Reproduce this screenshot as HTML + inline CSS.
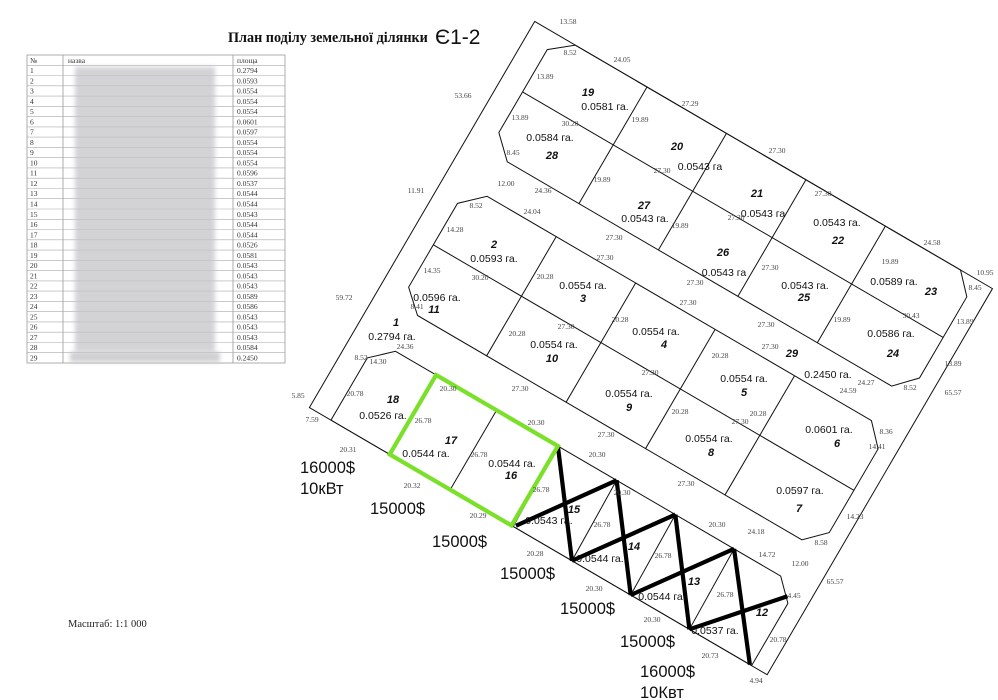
<!DOCTYPE html>
<html><head><meta charset="utf-8"><style>
body{margin:0;background:#fff;width:998px;height:700px;overflow:hidden;position:relative;font-family:"Liberation Serif",serif}
svg{position:absolute;left:0;top:0}
.d{font-family:"Liberation Serif",serif;font-size:7.5px;fill:#444}
.n{font-family:"Liberation Sans",sans-serif;font-size:11px;font-style:italic;font-weight:bold;fill:#111}
.a{font-family:"Liberation Sans",sans-serif;font-size:10.5px;fill:#111}
.p{font-family:"Liberation Sans",sans-serif;font-size:16.5px;fill:#111}
</style></head><body>
<svg width="998" height="700" viewBox="0 0 998 700">
<text x="228" y="42" font-family="Liberation Serif,serif" font-weight="bold" font-size="14.2" fill="#111">План поділу земельної ділянки</text>
<text x="435" y="44" font-family="Liberation Sans,sans-serif" font-size="21" fill="#111">Є1-2</text>
<g stroke="#999" stroke-width="0.8" fill="none">
<rect x="27" y="55" width="258" height="308"/>
<line x1="63" y1="55" x2="63" y2="363"/><line x1="233" y1="55" x2="233" y2="363"/>
</g>
<g stroke="#aaa" stroke-width="0.6">
<line x1="27" y1="65.3" x2="285" y2="65.3"/><line x1="27" y1="75.5" x2="285" y2="75.5"/><line x1="27" y1="85.8" x2="285" y2="85.8"/><line x1="27" y1="96.1" x2="285" y2="96.1"/><line x1="27" y1="106.3" x2="285" y2="106.3"/><line x1="27" y1="116.6" x2="285" y2="116.6"/><line x1="27" y1="126.9" x2="285" y2="126.9"/><line x1="27" y1="137.1" x2="285" y2="137.1"/><line x1="27" y1="147.4" x2="285" y2="147.4"/><line x1="27" y1="157.7" x2="285" y2="157.7"/><line x1="27" y1="167.9" x2="285" y2="167.9"/><line x1="27" y1="178.2" x2="285" y2="178.2"/><line x1="27" y1="188.5" x2="285" y2="188.5"/><line x1="27" y1="198.7" x2="285" y2="198.7"/><line x1="27" y1="209" x2="285" y2="209"/><line x1="27" y1="219.3" x2="285" y2="219.3"/><line x1="27" y1="229.5" x2="285" y2="229.5"/><line x1="27" y1="239.8" x2="285" y2="239.8"/><line x1="27" y1="250.1" x2="285" y2="250.1"/><line x1="27" y1="260.3" x2="285" y2="260.3"/><line x1="27" y1="270.6" x2="285" y2="270.6"/><line x1="27" y1="280.9" x2="285" y2="280.9"/><line x1="27" y1="291.1" x2="285" y2="291.1"/><line x1="27" y1="301.4" x2="285" y2="301.4"/><line x1="27" y1="311.7" x2="285" y2="311.7"/><line x1="27" y1="321.9" x2="285" y2="321.9"/><line x1="27" y1="332.2" x2="285" y2="332.2"/><line x1="27" y1="342.5" x2="285" y2="342.5"/><line x1="27" y1="352.7" x2="285" y2="352.7"/>
</g>
<defs><filter id="bl"><feGaussianBlur stdDeviation="2.2"/></filter></defs>
<g filter="url(#bl)" fill="#c4c4c8">
<rect x="75" y="67" width="140" height="284" opacity="0.75"/>
<rect x="70" y="352" width="150" height="10" opacity="0.8"/>
</g>
<g font-family="Liberation Serif,serif" font-size="7.5" fill="#333">
<text x="30" y="63">№</text><text x="68" y="63">назва</text><text x="237" y="63">площа</text>
<text x="30" y="73">1</text><text x="237" y="73">0.2794</text>
<text x="30" y="83.3">2</text><text x="237" y="83.3">0.0593</text>
<text x="30" y="93.6">3</text><text x="237" y="93.6">0.0554</text>
<text x="30" y="103.8">4</text><text x="237" y="103.8">0.0554</text>
<text x="30" y="114.1">5</text><text x="237" y="114.1">0.0554</text>
<text x="30" y="124.4">6</text><text x="237" y="124.4">0.0601</text>
<text x="30" y="134.6">7</text><text x="237" y="134.6">0.0597</text>
<text x="30" y="144.9">8</text><text x="237" y="144.9">0.0554</text>
<text x="30" y="155.2">9</text><text x="237" y="155.2">0.0554</text>
<text x="30" y="165.4">10</text><text x="237" y="165.4">0.0554</text>
<text x="30" y="175.7">11</text><text x="237" y="175.7">0.0596</text>
<text x="30" y="186">12</text><text x="237" y="186">0.0537</text>
<text x="30" y="196.2">13</text><text x="237" y="196.2">0.0544</text>
<text x="30" y="206.5">14</text><text x="237" y="206.5">0.0544</text>
<text x="30" y="216.8">15</text><text x="237" y="216.8">0.0543</text>
<text x="30" y="227">16</text><text x="237" y="227">0.0544</text>
<text x="30" y="237.3">17</text><text x="237" y="237.3">0.0544</text>
<text x="30" y="247.6">18</text><text x="237" y="247.6">0.0526</text>
<text x="30" y="257.8">19</text><text x="237" y="257.8">0.0581</text>
<text x="30" y="268.1">20</text><text x="237" y="268.1">0.0543</text>
<text x="30" y="278.4">21</text><text x="237" y="278.4">0.0543</text>
<text x="30" y="288.6">22</text><text x="237" y="288.6">0.0543</text>
<text x="30" y="298.9">23</text><text x="237" y="298.9">0.0589</text>
<text x="30" y="309.2">24</text><text x="237" y="309.2">0.0586</text>
<text x="30" y="319.4">25</text><text x="237" y="319.4">0.0543</text>
<text x="30" y="329.7">26</text><text x="237" y="329.7">0.0543</text>
<text x="30" y="340">27</text><text x="237" y="340">0.0543</text>
<text x="30" y="350.2">28</text><text x="237" y="350.2">0.0584</text>
<text x="30" y="360.5">29</text><text x="237" y="360.5">0.2450</text>
</g>
<text x="68" y="627" font-family="Liberation Serif,serif" font-size="10.5" fill="#222">Масштаб: 1:1 000</text>

<g transform="translate(647,87) rotate(30.27)" fill="none" stroke="#111" stroke-width="1">
<polygon points="-130,0 400,0 400,447 -130,447"/>
<polygon points="-83,0 363,0 382,20 382,114 362,135 -83,135 -105,114 -105,18"/>
<line x1="-105" y1="67" x2="382" y2="67"/>
<line x1="0" y1="0" x2="0" y2="135"/><line x1="92" y1="0" x2="92" y2="135"/><line x1="184" y1="0" x2="184" y2="135"/><line x1="276" y1="0" x2="276" y2="135"/>
<polygon points="-83,175 362,175 382,196 382,293 362,313 -83,313 -105,293 -105,196"/>
<line x1="-105" y1="244" x2="382" y2="244"/>
<line x1="-3" y1="175" x2="-3" y2="313"/><line x1="89" y1="175" x2="89" y2="313"/><line x1="181" y1="175" x2="181" y2="313"/><line x1="273" y1="175" x2="273" y2="313"/>
<polygon points="-84,355 362,355 382,375 382,447 -105,447 -105,375"/>
<line x1="-37" y1="355" x2="-37" y2="447"/><line x1="33" y1="355" x2="33" y2="447"/>
<line x1="172" y1="355" x2="174" y2="447"/><line x1="240" y1="355" x2="242" y2="447"/><line x1="308" y1="355" x2="310" y2="447"/>
<line x1="104" y1="355" x2="106" y2="447"/>
<g stroke="#000" stroke-width="4.2">
<line x1="104" y1="355" x2="174" y2="447"/><line x1="108" y1="445" x2="172" y2="355"/>
<line x1="172" y1="355" x2="242" y2="447"/><line x1="174" y1="447" x2="240" y2="355"/>
<line x1="240" y1="355" x2="310" y2="447"/><line x1="242" y1="447" x2="308" y2="355"/>
<line x1="308" y1="355" x2="380" y2="447"/><line x1="310" y1="447" x2="378" y2="369"/>
</g>
<rect x="-37" y="355" width="141" height="92" stroke="#7be02a" stroke-width="4.2"/>
</g>

<g class="n" text-anchor="middle">
<text x="588" y="96">19</text><text x="552" y="159">28</text><text x="677" y="150">20</text><text x="644" y="209">27</text>
<text x="757" y="197">21</text><text x="723" y="256">26</text><text x="838" y="244">22</text><text x="804" y="301">25</text>
<text x="931" y="295">23</text><text x="893" y="357">24</text><text x="494" y="248">2</text><text x="434" y="313">11</text>
<text x="583" y="302">3</text><text x="552" y="362">10</text><text x="664" y="348">4</text><text x="629" y="411">9</text>
<text x="744" y="396">5</text><text x="711" y="456">8</text><text x="792" y="357">29</text><text x="837" y="447">6</text>
<text x="799" y="512">7</text><text x="396" y="326">1</text><text x="393" y="403">18</text><text x="451" y="444">17</text>
<text x="511" y="479">16</text><text x="574" y="513">15</text><text x="634" y="550">14</text><text x="694" y="585">13</text><text x="762" y="616">12</text>
</g>
<g class="a" text-anchor="middle">
<text x="605" y="110">0.0581 га.</text><text x="550" y="141">0.0584 га.</text><text x="700" y="170">0.0543 га</text>
<text x="645" y="222">0.0543 га.</text><text x="763" y="217">0.0543 га</text><text x="724" y="276">0.0543 га</text>
<text x="837" y="226">0.0543 га.</text><text x="805" y="289">0.0543 га.</text><text x="894" y="285">0.0589 га.</text>
<text x="891" y="337">0.0586 га.</text><text x="494" y="262">0.0593 га.</text><text x="437" y="301">0.0596 га.</text>
<text x="583" y="289">0.0554 га.</text><text x="554" y="348">0.0554 га.</text><text x="656" y="335">0.0554 га.</text>
<text x="629" y="397">0.0554 га.</text><text x="744" y="382">0.0554 га.</text><text x="709" y="442">0.0554 га.</text>
<text x="828" y="378">0.2450 га.</text><text x="829" y="433">0.0601 га.</text><text x="800" y="494">0.0597 га.</text>
<text x="392" y="340">0.2794 га.</text><text x="383" y="419">0.0526 га.</text><text x="426" y="457">0.0544 га.</text>
<text x="512" y="467">0.0544 га.</text><text x="549" y="524">0.0543 га.</text><text x="600" y="562">0.0544 га.</text>
<text x="662" y="600">0.0544 га.</text><text x="715" y="634">0.0537 га.</text>
</g>
<g class="d" text-anchor="middle">
<text x="568" y="24">13.58</text><text x="570" y="55">8.52</text><text x="622" y="62">24.05</text><text x="545" y="79">13.89</text>
<text x="463" y="98">53.66</text><text x="690" y="106">27.29</text><text x="520" y="120">13.89</text><text x="570" y="126">30.20</text>
<text x="640" y="122">19.89</text><text x="513" y="155">8.45</text><text x="777" y="153">27.30</text><text x="602" y="182">19.89</text>
<text x="662" y="173">27.30</text><text x="506" y="186">12.00</text><text x="543" y="193">24.36</text><text x="416" y="193">11.91</text>
<text x="476" y="208">8.52</text><text x="532" y="214">24.04</text><text x="823" y="196">27.30</text><text x="680" y="228">19.89</text>
<text x="736" y="220">27.30</text><text x="455" y="232">14.28</text><text x="614" y="240">27.30</text><text x="605" y="260">27.30</text>
<text x="890" y="264">19.89</text><text x="932" y="245">24.58</text><text x="985" y="275">10.95</text><text x="975" y="290">8.45</text>
<text x="545" y="279">20.28</text><text x="480" y="280">30.20</text><text x="432" y="273">14.35</text><text x="695" y="285">27.30</text>
<text x="770" y="270">27.30</text><text x="688" y="305">27.30</text><text x="344" y="300">59.72</text><text x="417" y="309">8.41</text>
<text x="517" y="336">20.28</text><text x="566" y="329">27.30</text><text x="620" y="322">20.28</text><text x="770" y="349">27.30</text>
<text x="766" y="327">27.30</text><text x="842" y="322">19.89</text><text x="911" y="318">30.43</text><text x="965" y="324">13.89</text>
<text x="910" y="390">8.52</text><text x="866" y="385">24.27</text><text x="953" y="366">13.89</text><text x="953" y="395">65.57</text>
<text x="405" y="349">24.36</text><text x="361" y="360">8.52</text><text x="378" y="364">14.30</text><text x="720" y="358">20.28</text>
<text x="650" y="375">27.30</text><text x="448" y="391">20.30</text><text x="520" y="391">27.30</text><text x="355" y="396">20.78</text>
<text x="423" y="423">26.78</text><text x="536" y="425">20.30</text><text x="680" y="414">20.28</text><text x="758" y="416">20.28</text>
<text x="740" y="424">27.30</text><text x="606" y="437">27.30</text><text x="848" y="393">24.59</text><text x="886" y="434">8.36</text>
<text x="298" y="398">5.85</text><text x="312" y="422">7.59</text><text x="348" y="452">20.31</text><text x="412" y="488">20.32</text>
<text x="479" y="457">26.78</text><text x="597" y="457">20.30</text><text x="541" y="492">26.78</text><text x="686" y="486">27.30</text>
<text x="622" y="495">20.30</text><text x="478" y="518">20.29</text><text x="602" y="527">26.78</text><text x="717" y="527">20.30</text>
<text x="756" y="534">24.18</text><text x="877" y="449">14.41</text><text x="855" y="519">14.23</text><text x="535" y="556">20.28</text>
<text x="663" y="558">26.78</text><text x="767" y="557">14.72</text><text x="821" y="545">8.58</text><text x="800" y="566">12.00</text>
<text x="594" y="591">20.30</text><text x="725" y="597">26.78</text><text x="794" y="598">4.45</text><text x="835" y="584">65.57</text>
<text x="652" y="622">20.30</text><text x="778" y="642">20.78</text><text x="710" y="658">20.73</text><text x="756" y="683">4.94</text>
</g>
<g class="p">
<text x="300" y="473">16000$</text><text x="300" y="494">10кВт</text>
<text x="370" y="514">15000$</text><text x="432" y="547">15000$</text><text x="500" y="579">15000$</text>
<text x="560" y="614">15000$</text><text x="620" y="647">15000$</text>
<text x="640" y="677">16000$</text><text x="640" y="698">10Квт</text>
</g>
</svg>
</body></html>
